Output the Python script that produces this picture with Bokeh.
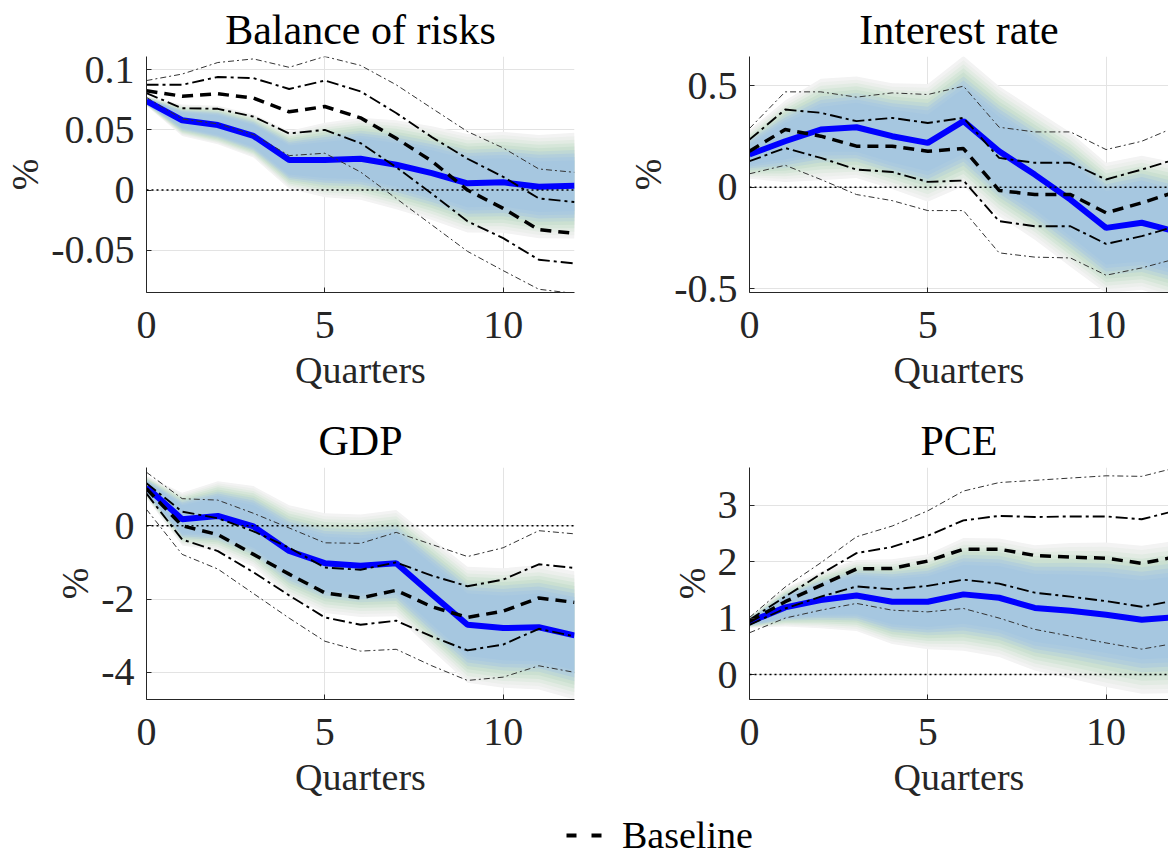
import numpy as np
from bokeh.plotting import figure
from bokeh.models import Range1d, FixedTicker, Span, Legend, LegendItem
from bokeh.layouts import column, row
from bokeh.embed import file_html
from bokeh.resources import INLINE

quarters = list(range(13))
x_ticks = [0, 5, 10]

# ---------------- Balance of risks ----------------
bor_scenario = [0.074, 0.058, 0.054, 0.045, 0.025, 0.025, 0.026, 0.021, 0.014, 0.0056, 0.0064, 0.0028, 0.0036]
bor_baseline = [0.0825, 0.078, 0.080, 0.0764, 0.065, 0.0694, 0.060, 0.043, 0.024, 0.0, -0.0153, -0.033, -0.036]
bor_base_in_hi = [0.0875, 0.0875, 0.094, 0.093, 0.084, 0.091, 0.082, 0.064, 0.044, 0.026, 0.011, -0.007, -0.010]
bor_base_in_lo = [0.0806, 0.068, 0.0675, 0.061, 0.047, 0.050, 0.039, 0.019, -0.003, -0.026, -0.040, -0.058, -0.061]
bor_base_out_hi = [0.091, 0.0964, 0.106, 0.109, 0.102, 0.111, 0.1036, 0.0875, 0.068, 0.0486, 0.035, 0.0175, 0.0147]
bor_base_out_lo = [0.077, 0.059, 0.055, 0.046, 0.0286, 0.0306, 0.015, -0.007, -0.029, -0.051, -0.067, -0.0825, -0.086]
bor_fan_outer = [0.004, 0.013, 0.016, 0.018, 0.024, 0.031, 0.034, 0.037, 0.039, 0.041, 0.042, 0.043, 0.044]
bor_fan_inner = [0.002, 0.006, 0.008, 0.009, 0.012, 0.015, 0.017, 0.018, 0.019, 0.020, 0.020, 0.021, 0.021]
bor_yticks = [-0.05, 0, 0.05, 0.1]
bor_ylabels = ["-0.05", "0", "0.05", "0.1"]

# ---------------- Interest rate ----------------
ir_scenario = [0.161, 0.226, 0.284, 0.295, 0.251, 0.218, 0.325, 0.177, 0.062, -0.061, -0.200, -0.175, -0.22]
ir_baseline = [0.177, 0.284, 0.251, 0.202, 0.202, 0.177, 0.19, -0.016, -0.036, -0.036, -0.126, -0.077, -0.02]
ir_base_in_hi = [0.234, 0.382, 0.366, 0.325, 0.341, 0.316, 0.341, 0.144, 0.12, 0.12, 0.038, 0.087, 0.14]
ir_base_in_lo = [0.128, 0.193, 0.144, 0.087, 0.075, 0.026, 0.033, -0.167, -0.192, -0.192, -0.279, -0.241, -0.19]
ir_base_out_hi = [0.289, 0.469, 0.469, 0.443, 0.464, 0.456, 0.497, 0.295, 0.272, 0.272, 0.185, 0.226, 0.30]
ir_base_out_lo = [0.066, 0.108, 0.038, -0.036, -0.066, -0.115, -0.115, -0.323, -0.344, -0.348, -0.433, -0.397, -0.35]
ir_fan_outer = [0.12, 0.20, 0.25, 0.25, 0.26, 0.29, 0.32, 0.32, 0.32, 0.33, 0.32, 0.33, 0.34]
ir_fan_inner = [0.05, 0.09, 0.11, 0.12, 0.13, 0.14, 0.16, 0.17, 0.17, 0.18, 0.18, 0.19, 0.19]
ir_yticks = [-0.5, 0, 0.5]
ir_ylabels = ["-0.5", "0", "0.5"]

# ---------------- GDP ----------------
gdp_scenario = [1.056, 0.179, 0.268, -0.018, -0.689, -1.02, -1.09, -1.02, -1.87, -2.70, -2.79, -2.77, -2.99]
gdp_baseline = [1.01, 0.0, -0.24, -0.78, -1.32, -1.83, -1.97, -1.76, -2.21, -2.5, -2.33, -1.97, -2.09]
gdp_base_in_hi = [1.16, 0.385, 0.206, -0.15, -0.6, -1.14, -1.2, -1.0, -1.36, -1.65, -1.47, -1.05, -1.15]
gdp_base_in_lo = [0.877, -0.376, -0.69, -1.27, -1.9, -2.5, -2.7, -2.59, -3.02, -3.4, -3.24, -2.81, -3.02]
gdp_base_out_hi = [1.46, 0.74, 0.70, 0.34, -0.06, -0.465, -0.48, -0.18, -0.51, -0.84, -0.6, -0.134, -0.22]
gdp_base_out_lo = [0.447, -0.78, -1.18, -1.85, -2.52, -3.15, -3.42, -3.37, -3.82, -4.22, -4.13, -3.82, -4.0]
gdp_fan_outer = [0.30, 0.72, 0.95, 1.1, 1.25, 1.36, 1.40, 1.45, 1.52, 1.58, 1.63, 1.70, 1.75]
gdp_fan_inner = [0.15, 0.38, 0.5, 0.58, 0.65, 0.72, 0.75, 0.78, 0.82, 0.85, 0.88, 0.92, 0.95]
gdp_yticks = [-4, -2, 0]
gdp_ylabels = ["-4", "-2", "0"]

# ---------------- PCE ----------------
pce_scenario = [0.93, 1.19, 1.32, 1.40, 1.29, 1.29, 1.42, 1.36, 1.18, 1.13, 1.06, 0.97, 1.02]
pce_baseline = [0.94, 1.29, 1.58, 1.87, 1.88, 2.01, 2.22, 2.22, 2.11, 2.08, 2.06, 1.97, 2.09]
pce_base_in_hi = [0.97, 1.38, 1.78, 2.15, 2.26, 2.46, 2.73, 2.81, 2.79, 2.80, 2.80, 2.75, 2.91]
pce_base_in_lo = [0.88, 1.17, 1.38, 1.56, 1.51, 1.57, 1.68, 1.61, 1.45, 1.38, 1.30, 1.20, 1.32]
pce_base_out_hi = [1.01, 1.55, 1.98, 2.44, 2.63, 2.90, 3.25, 3.40, 3.44, 3.48, 3.52, 3.51, 3.67]
pce_base_out_lo = [0.74, 1.0, 1.14, 1.26, 1.14, 1.11, 1.17, 1.0, 0.80, 0.68, 0.56, 0.45, 0.56]
pce_fan_outer = [0.10, 0.34, 0.50, 0.63, 0.75, 0.84, 1.00, 1.05, 1.11, 1.20, 1.28, 1.31, 1.35]
pce_fan_inner = [0.05, 0.17, 0.26, 0.33, 0.40, 0.45, 0.52, 0.56, 0.60, 0.64, 0.68, 0.70, 0.72]
pce_yticks = [0, 1, 2, 3]
pce_ylabels = ["0", "1", "2", "3"]

legend_label = "Baseline"

FONT = "Liberation Serif"
AX_COL = "#262626"
FAN_COLORS = ["#f3f3f3", "#ecefec", "#e2ebe3", "#d6e6d9", "#cbe0d1", "#bfd8d5", "#b3cfdb", "#abcadf"]
BLUE_BAND = "#a6c7e0"


def make_panel(title, ylo, yhi, xend, yticks, ylabels, scen, base, in_hi, in_lo, out_hi, out_lo,
               fan_outer, fan_inner, width, border_left, border_right, height, border_top, border_bottom,
               title_offset=0):
    p = figure(width=width, height=height, x_range=Range1d(0, xend), y_range=Range1d(ylo, yhi),
               output_backend="svg", toolbar_location=None,
               min_border_left=border_left, min_border_right=border_right,
               min_border_top=border_top, min_border_bottom=border_bottom)
    p.outline_line_color = None
    p.background_fill_color = "white"
    p.border_fill_color = "white"

    p.title.text = title
    p.title.text_font = FONT
    p.title.text_font_size = "42px"
    p.title.text_font_style = "normal"
    p.title.text_color = "black"
    p.title.align = "center"
    p.title.standoff = 8
    p.title.offset = title_offset

    x = np.array(quarters, dtype=float)
    s = np.array(scen)
    fo = np.array(fan_outer)
    fi = np.array(fan_inner)
    n = len(FAN_COLORS)
    for k, col in enumerate(FAN_COLORS):
        t = 1.0 - k / n
        h = fi + (fo - fi) * t
        p.varea(x=x, y1=s - h, y2=s + h, fill_color=col, fill_alpha=1.0)
    p.varea(x=x, y1=s - fi, y2=s + fi, fill_color=BLUE_BAND, fill_alpha=1.0)

    p.line(x, scen, line_color="#0000ff", line_width=6)

    zero = Span(location=0, dimension="width", line_color="black", line_width=1.4, line_dash="2 3")
    p.add_layout(zero)

    p.line(x, out_hi, line_color="#333333", line_width=1.0, line_dash="6 3 2 3")
    p.line(x, out_lo, line_color="#333333", line_width=1.0, line_dash="6 3 2 3")
    p.line(x, in_hi, line_color="black", line_width=1.9, line_dash="12 4 3 4")
    p.line(x, in_lo, line_color="black", line_width=1.9, line_dash="12 4 3 4")
    p.line(x, base, line_color="black", line_width=3.5, line_dash="11 7")

    for ax in (p.xaxis[0], p.yaxis[0]):
        ax.axis_line_color = AX_COL
        ax.axis_line_width = 1
        ax.major_tick_line_color = AX_COL
        ax.major_tick_in = 5
        ax.major_tick_out = 0
        ax.minor_tick_line_color = None
        ax.major_label_text_font = FONT
        ax.major_label_text_font_size = "40px"
        ax.major_label_text_color = AX_COL
        ax.axis_label_text_font = FONT
        ax.axis_label_text_font_size = "38px"
        ax.axis_label_text_font_style = "normal"
        ax.axis_label_text_color = AX_COL

    p.xaxis.ticker = FixedTicker(ticks=x_ticks)
    p.xaxis.axis_label = "Quarters"
    p.xaxis.major_label_standoff = 19
    p.xaxis.axis_label_standoff = 8

    p.yaxis.ticker = FixedTicker(ticks=yticks)
    p.yaxis.major_label_overrides = {t: l for t, l in zip(yticks, ylabels)}
    p.yaxis.axis_label = "%"
    p.yaxis.major_label_standoff = 12
    p.yaxis.axis_label_standoff = 2

    p.xgrid.ticker = FixedTicker(ticks=x_ticks)
    p.ygrid.ticker = FixedTicker(ticks=yticks)
    for g in (p.xgrid[0], p.ygrid[0]):
        g.grid_line_color = "#e3e3e3"
        g.grid_line_width = 1
    return p


p1 = make_panel("Balance of risks", -0.0852, 0.111, 12, bor_yticks, bor_ylabels,
                bor_scenario, bor_baseline, bor_base_in_hi, bor_base_in_lo, bor_base_out_hi, bor_base_out_lo,
                bor_fan_outer, bor_fan_inner, 600, 146, 26, 411, 55, 119)
p2 = make_panel("Interest rate", -0.518, 0.643, 11.75, ir_yticks, ir_ylabels,
                ir_scenario, ir_baseline, ir_base_in_hi, ir_base_in_lo, ir_base_out_hi, ir_base_out_lo,
                ir_fan_outer, ir_fan_inner, 568, 149, 0, 411, 55, 119, title_offset=4)
p3 = make_panel("GDP", -4.74, 1.59, 12, gdp_yticks, gdp_ylabels,
                gdp_scenario, gdp_baseline, gdp_base_in_hi, gdp_base_in_lo, gdp_base_out_hi, gdp_base_out_lo,
                gdp_fan_outer, gdp_fan_inner, 600, 146, 26, 389, 56, 97)
p4 = make_panel("PCE", -0.442, 3.667, 11.75, pce_yticks, pce_ylabels,
                pce_scenario, pce_baseline, pce_base_in_hi, pce_base_in_lo, pce_base_out_hi, pce_base_out_lo,
                pce_fan_outer, pce_fan_inner, 568, 149, 0, 389, 56, 97, title_offset=4)

# Legend strip (the dummy line lies outside the visible range; only its legend glyph shows)
leg = figure(width=1168, height=57, x_range=Range1d(0, 1), y_range=Range1d(0, 1),
             output_backend="svg", toolbar_location=None,
             min_border_left=0, min_border_right=0, min_border_top=0, min_border_bottom=0)
leg.outline_line_color = None
leg.xaxis.visible = False
leg.yaxis.visible = False
leg.xgrid.visible = False
leg.ygrid.visible = False
r_leg = leg.line(x=[-5, -4], y=[-5, -5], line_color="black", line_width=4, line_dash="10 15")
legend = Legend(items=[LegendItem(label=legend_label, renderers=[r_leg])], location=(566, 0),
                glyph_width=36, glyph_height=20, label_standoff=20, padding=0, margin=0, spacing=0,
                border_line_color=None, background_fill_alpha=0,
                label_text_font=FONT, label_text_font_size="38px", label_text_color="black")
leg.add_layout(legend, "center")

layout = column(row(p1, p2), row(p3, p4), leg)

open("out.html", "w").write(file_html(layout, INLINE))
